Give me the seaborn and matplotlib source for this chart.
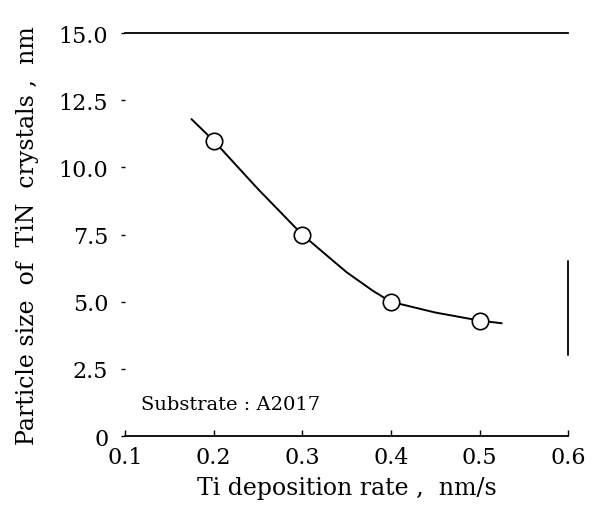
import matplotlib
matplotlib.use("Agg")
import matplotlib.pyplot as plt
import numpy as np
import pandas as pd
import seaborn as sns

# measured points
rate = [0.2, 0.3, 0.4, 0.5]
size = [11.0, 7.5, 5.0, 4.3]

# hand-drawn trend curve
curve_rate = [0.175, 0.2, 0.25, 0.3, 0.35, 0.38, 0.4, 0.45, 0.5, 0.525]
curve_size = [11.8, 11.0, 9.2, 7.5, 6.1, 5.4, 5.0, 4.6, 4.3, 4.2]

x_ticks = [0.1, 0.2, 0.3, 0.4, 0.5, 0.6]
x_ticklabels = ["0.1", "0.2", "0.3", "0.4", "0.5", "0.6"]
y_ticks = [0, 2.5, 5.0, 7.5, 10.0, 12.5, 15.0]
y_ticklabels = ["0", "2.5", "5.0", "7.5", "10.0", "12.5", "15.0"]

df_pts = pd.DataFrame({"rate": rate, "size": size})
df_curve = pd.DataFrame({"rate": curve_rate, "size": curve_size})

sns.set_theme(style="white")
plt.rcParams["font.family"] = ["DejaVu Serif"]
plt.rcParams["text.color"] = "black"
plt.rcParams["axes.labelcolor"] = "black"

fig = plt.figure(figsize=(5.95, 5.1), dpi=100)
ax = fig.add_axes([0.21, 0.143, 0.745, 0.79])

sns.lineplot(data=df_curve, x="rate", y="size", color="black", linewidth=1.4,
             ax=ax, sort=True)
sns.scatterplot(data=df_pts, x="rate", y="size", marker="o", s=140,
                facecolor="white", edgecolor="black", linewidth=1.2, ax=ax,
                zorder=3)

ax.set_xlim(0.1, 0.6)
ax.set_ylim(0, 15)
ax.set_xticks(x_ticks)
ax.set_xticklabels(x_ticklabels)
ax.set_yticks(y_ticks)
ax.set_yticklabels(y_ticklabels)

for side in ["left", "right"]:
    ax.spines[side].set_visible(False)
for side in ["top", "bottom"]:
    ax.spines[side].set_color("black")
    ax.spines[side].set_linewidth(1.3)

# stray vertical stroke on the right edge
ax.axvline(0.6, ymin=3.0 / 15, ymax=6.5 / 15, color="black", linewidth=1.3,
           clip_on=False)

ax.tick_params(axis="x", direction="in", length=4, width=1, labelsize=16,
               pad=7, bottom=True, colors="black")
ax.tick_params(axis="y", direction="out", length=3, width=1, labelsize=16,
               pad=9, left=True, colors="black")

ax.text(0.118, 1.2, "Substrate : A2017", fontsize=14, ha="left", va="center")

ax.set_xlabel("Ti deposition rate ,  nm/s", fontsize=17, labelpad=6)
ax.set_ylabel("Particle size  of  TiN  crystals ,  nm", fontsize=17,
              labelpad=14)

fig.savefig("out.png", dpi=100)
